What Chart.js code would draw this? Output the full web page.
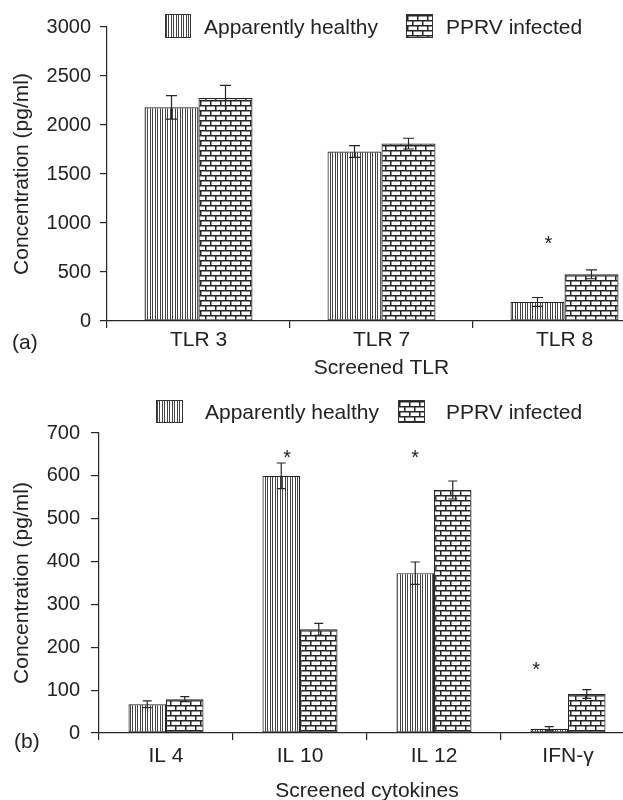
<!DOCTYPE html>
<html lang="en">
<head>
  <meta charset="UTF-8">
  <title>TLR and cytokine concentrations</title>
  <script src="https://cdn.jsdelivr.net/npm/chart.js"></script>
  <style>
    body {
      margin: 0;
      width: 623px;
      height: 800px;
      overflow: hidden;
      background: #fff;
      font-family: 'Liberation Sans', Arial, sans-serif;
      color: #222;
      position: relative;
    }
    .chart-box { position: absolute; left: 0; }
    .legend-item { position: absolute; display: flex; align-items: center; font-size: 21px; line-height: 1; }
    .legend-item canvas { border: 1px solid #333; box-sizing: border-box; margin-right: 13px; }
    .panel-tag { position: absolute; font-size: 21px; line-height: 1; }
  </style>
</head>
<body>

  <div class="chart-box" style="top:0; width:660px; height:381px;">
    <canvas id="tlrChart"></canvas>
  </div>
  <div class="chart-box" style="top:400px; width:640px; height:404px;">
    <canvas id="cytoChart"></canvas>
  </div>

  <div class="legend-item" style="left:165px; top:14px;"><canvas class="sw-healthy" width="24" height="22"></canvas>Apparently healthy</div>
  <div class="legend-item" style="left:406px; top:14px;"><canvas class="sw-infected" width="25" height="22"></canvas>PPRV infected</div>
  <div class="legend-item" style="left:156px; top:400px;"><canvas class="sw-healthy" width="25" height="21"></canvas><span style="margin-left:9px">Apparently healthy</span></div>
  <div class="legend-item" style="left:398px; top:400px;"><canvas class="sw-infected" width="25" height="21"></canvas><span style="margin-left:8px">PPRV infected</span></div>

  <div class="panel-tag" style="left:12px; top:331px;">(a)</div>
  <div class="panel-tag" style="left:14px; top:730px;">(b)</div>

  <script>
    // panel (a): screened TLR
    const tlrLabels = ['TLR 3', 'TLR 7', 'TLR 8'];
    const tlrHealthy = [2180, 1730, 195];
    const tlrHealthyErr = [120, 60, 45];
    const tlrInfected = [2275, 1810, 476];
    const tlrInfectedErr = [130, 55, 45];
    const tlrStars = [null, null, 820];
    const tlrTicks = [0, 500, 1000, 1500, 2000, 2500, 3000];

    // panel (b): screened cytokines
    const cytoLabels = ['IL 4', 'IL 10', 'IL 12', 'IFN-γ'];
    const cytoHealthy = [67, 600, 373, 10];
    const cytoHealthyErr = [8, 30, 26, 5];
    const cytoInfected = [79, 242, 567, 91];
    const cytoInfectedErr = [6, 14, 21, 10];
    const cytoStars = [null, 650, 650, 155];
    const cytoTicks = [0, 100, 200, 300, 400, 500, 600, 700];

    const ink = '#262626';
    Chart.defaults.font.family = "'Liberation Sans', Arial, sans-serif";
    Chart.defaults.color = '#222';

    function stripePattern() {
      const c = document.createElement('canvas');
      c.width = 5; c.height = 4;
      const g = c.getContext('2d');
      g.fillStyle = '#fff'; g.fillRect(0, 0, 5, 4);
      g.fillStyle = '#444';
      g.fillRect(0, 0, 1, 4);
      g.fillRect(2, 0, 1, 4);
      return g.createPattern(c, 'repeat');
    }

    function brickPattern() {
      const c = document.createElement('canvas');
      c.width = 10; c.height = 10;
      const g = c.getContext('2d');
      g.fillStyle = '#fff'; g.fillRect(0, 0, 10, 10);
      g.fillStyle = ink;
      g.fillRect(0, 0, 10, 1.5);
      g.fillRect(0, 5, 10, 1.5);
      g.fillRect(0, 0, 1.5, 5);
      g.fillRect(5, 5, 1.5, 5);
      return g.createPattern(c, 'repeat');
    }

    // legend swatches
    document.querySelectorAll('.sw-healthy, .sw-infected').forEach(cv => {
      const g = cv.getContext('2d');
      g.fillStyle = cv.classList.contains('sw-healthy') ? stripePattern() : brickPattern();
      g.fillRect(0, 0, cv.width, cv.height);
    });

    // error bars and significance stars, placed through the chart scales
    const errorBars = {
      id: 'errorBars',
      afterDatasetsDraw(chart, args, opts) {
        const ctx = chart.ctx;
        const y = chart.scales.y;
        ctx.save();
        ctx.strokeStyle = ink;
        ctx.lineWidth = 1.2;
        chart.data.datasets.forEach((ds, di) => {
          const meta = chart.getDatasetMeta(di);
          meta.data.forEach((bar, i) => {
            const v = ds.data[i], e = ds.errors[i];
            const top = y.getPixelForValue(v + e);
            const bot = y.getPixelForValue(v - e);
            const half = opts.cap / 2;
            ctx.beginPath();
            ctx.moveTo(bar.x, top); ctx.lineTo(bar.x, bot);
            ctx.moveTo(bar.x - half, top); ctx.lineTo(bar.x + half, top);
            ctx.moveTo(bar.x - half, bot); ctx.lineTo(bar.x + half, bot);
            ctx.stroke();
          });
        });
        ctx.fillStyle = '#222';
        ctx.font = "20px 'Liberation Sans', Arial, sans-serif";
        ctx.textAlign = 'center';
        ctx.textBaseline = 'middle';
        const healthy = chart.getDatasetMeta(0).data;
        opts.stars.forEach((s, i) => {
          if (s === null) return;
          const b = healthy[i];
          ctx.fillText('*', b.x + opts.shift[i] * b.width, y.getPixelForValue(s) + 4);
        });
        ctx.restore();
      }
    };

    function makeChart(id, labels, healthy, hErr, infected, iErr, ticks, opt) {
      return new Chart(document.getElementById(id), {
        type: 'bar',
        data: {
          labels: labels,
          datasets: [{
            label: 'Apparently healthy',
            data: healthy,
            errors: hErr,
            backgroundColor: stripePattern(),
            borderColor: ink,
            borderWidth: 1.2,
            borderSkipped: false
          }, {
            label: 'PPRV infected',
            data: infected,
            errors: iErr,
            backgroundColor: brickPattern(),
            borderColor: ink,
            borderWidth: 1.2,
            borderSkipped: false
          }]
        },
        options: {
          responsive: true,
          maintainAspectRatio: false,
          animation: false,
          datasets: { bar: { barPercentage: 1, categoryPercentage: opt.catPct } },
          layout: { padding: { top: opt.padTop, right: opt.padRight, left: 0, bottom: 0 } },
          plugins: {
            legend: { display: false },
            tooltip: { enabled: false },
            errorBars: { cap: opt.cap, stars: opt.stars, shift: opt.shift }
          },
          scales: {
            x: {
              afterFit: s => { s.height = opt.xHeight; },
              grid: { drawOnChartArea: false, tickLength: 7, color: ink, lineWidth: 1.2 },
              border: { color: ink, width: 1.2 },
              ticks: { font: { size: 21 }, padding: opt.xPad, color: '#222' },
              title: { display: true, text: opt.xTitle, font: { size: 21 }, padding: 0, color: '#222' }
            },
            y: {
              min: ticks[0],
              max: ticks[ticks.length - 1],
              afterFit: s => { s.width = opt.yWidth; },
              afterBuildTicks: s => { s.ticks = ticks.map(v => ({ value: v })); },
              grid: { drawOnChartArea: false, tickLength: opt.yTick, color: ink, lineWidth: 1.2 },
              border: { color: ink, width: 1.2 },
              ticks: { font: { size: 20 }, padding: opt.yPad, color: '#222', callback: v => String(v) },
              title: { display: true, text: 'Concentration (pg/ml)', font: { size: 21 }, padding: { top: 10, bottom: 0 }, color: '#222' }
            }
          }
        },
        plugins: [errorBars]
      });
    }

    makeChart('tlrChart', tlrLabels, tlrHealthy, tlrHealthyErr, tlrInfected, tlrInfectedErr, tlrTicks, {
      catPct: 0.59, padTop: 27, padRight: 4, yWidth: 107, xHeight: 60, xPad: 0, yTick: 7, yPad: 9,
      xTitle: 'Screened TLR', cap: 11, stars: tlrStars, shift: [0, 0, 0.2]
    });

    makeChart('cytoChart', cytoLabels, cytoHealthy, cytoHealthyErr, cytoInfected, cytoInfectedErr, cytoTicks, {
      catPct: 0.56, padTop: 33, padRight: 5, yWidth: 99, xHeight: 71, xPad: 4, yTick: 8, yPad: 11,
      xTitle: 'Screened cytokines', cap: 9, stars: cytoStars, shift: [0, 0.16, 0, -0.35]
    });
  </script>

</body>
</html>
